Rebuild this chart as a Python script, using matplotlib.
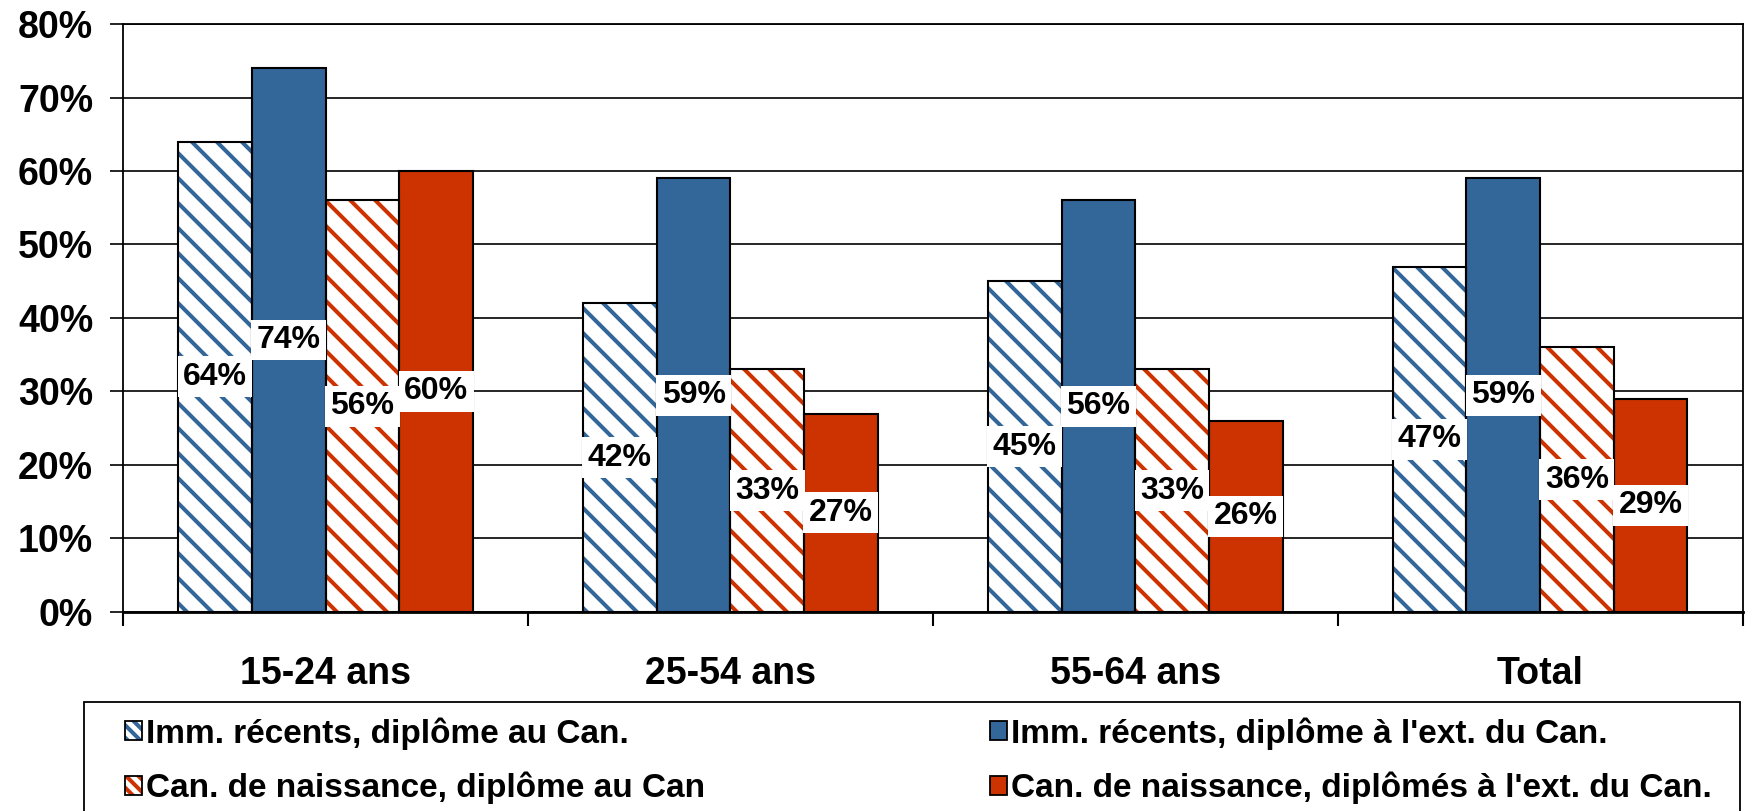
import numpy as np
import matplotlib
matplotlib.use('Agg')
import matplotlib.pyplot as plt
import matplotlib.backend_bases as bb
from matplotlib.patches import Rectangle
from matplotlib.legend_handler import HandlerTuple

# sparser hatch than matplotlib's default 6 lines per inch unit
_orig_hatch_path = bb.GraphicsContextBase.get_hatch_path
bb.GraphicsContextBase.get_hatch_path = lambda self, density=4.0: _orig_hatch_path(self, density)

plt.rcParams['font.family'] = ['Liberation Sans', 'DejaVu Sans']
plt.rcParams['font.weight'] = 'bold'
plt.rcParams['hatch.linewidth'] = 2.9

# data (percent)
categories = ['15-24 ans', '25-54 ans', '55-64 ans', 'Total']
imm_can = [64, 42, 45, 47]
imm_ext = [74, 59, 56, 59]
nes_can = [56, 33, 33, 36]
nes_ext = [60, 27, 26, 29]
series_names = ["Imm. récents, diplôme au Can.",
                "Imm. récents, diplôme à l'ext. du Can.",
                "Can. de naissance, diplôme au Can",
                "Can. de naissance, diplômés à l'ext. du Can."]

BLUE = '#336699'
RED = '#CC3300'

fig = plt.figure(figsize=(17.46, 8.11), dpi=100)
ax = fig.add_axes([0.0705, 0.2454, 0.9275, 0.725])

x = np.arange(len(categories))
w = 0.182
styles = [
    dict(facecolor='white', edgecolor=BLUE, hatch='\\\\'),
    dict(facecolor=BLUE, edgecolor=BLUE, hatch=None),
    dict(facecolor='white', edgecolor=RED, hatch='\\\\'),
    dict(facecolor=RED, edgecolor=RED, hatch=None),
]
handles = []
for i, vals in enumerate([imm_can, imm_ext, nes_can, nes_ext]):
    pos = x + (i - 1.5) * w
    st = styles[i]
    # hatch colour comes from edgecolor, so draw fill then black outline
    ax.bar(pos, vals, w, facecolor=st['facecolor'], edgecolor=st['edgecolor'],
           hatch=st['hatch'], linewidth=0, zorder=3)
    ax.bar(pos, vals, w, facecolor='none', edgecolor='black', linewidth=1.5, zorder=4)
    # legend swatch: finer hatch so a few stripes show in the small square
    sw_hatch = '\\\\\\\\' if st['hatch'] else None
    sw = Rectangle((0, 0), 1, 1, facecolor=st['facecolor'], edgecolor=st['edgecolor'],
                   hatch=sw_hatch, linewidth=0)
    sw_edge = Rectangle((0, 0), 1, 1, facecolor='none', edgecolor='black', linewidth=1.3)
    handles.append((sw, sw_edge))
    for p, v in zip(pos, vals):
        ax.text(p, v / 2, f'{v}%', ha='center', va='center', fontsize=23,
                fontweight='bold', zorder=6,
                bbox=dict(facecolor='white', edgecolor='none', pad=4))

ax.set_xlim(-0.5, 3.5)
ax.set_ylim(0, 80)
ax.set_yticks(np.arange(0, 81, 10))
ax.set_yticklabels([f'{t}%' for t in range(0, 81, 10)])
ax.yaxis.grid(True, color='black', linewidth=1.2, zorder=0)
ax.set_axisbelow(True)
ax.tick_params(axis='y', labelsize=27, length=9.5, width=1.2, pad=12)

ax.set_xticks(x)
ax.set_xticklabels(categories)
ax.set_xticks(np.arange(-0.5, 4, 1), minor=True)
ax.tick_params(axis='x', which='major', length=0, labelsize=27, pad=32)
ax.tick_params(axis='x', which='minor', length=10, width=1.5)

for s in ['left', 'right', 'top']:
    ax.spines[s].set_linewidth(1.3)
ax.spines['bottom'].set_linewidth(2)

# legend box
fig.patches.append(Rectangle((0.0481, -0.05), 0.9485, 0.1844, transform=fig.transFigure,
                             facecolor='none', edgecolor='black', linewidth=1.3))
order = [0, 2, 1, 3]
leg = fig.legend([handles[i] for i in order], [series_names[i] for i in order],
                 handler_map={tuple: HandlerTuple(ndivide=1)},
                 ncol=2, loc='upper left', bbox_to_anchor=(0.0716, 0.1155),
                 frameon=False, fontsize=24, handlelength=0.5, handleheight=0.5,
                 handletextpad=0.12, columnspacing=8.56, labelspacing=0.66,
                 borderpad=0, borderaxespad=0)

fig.savefig('out.png', dpi=100)
